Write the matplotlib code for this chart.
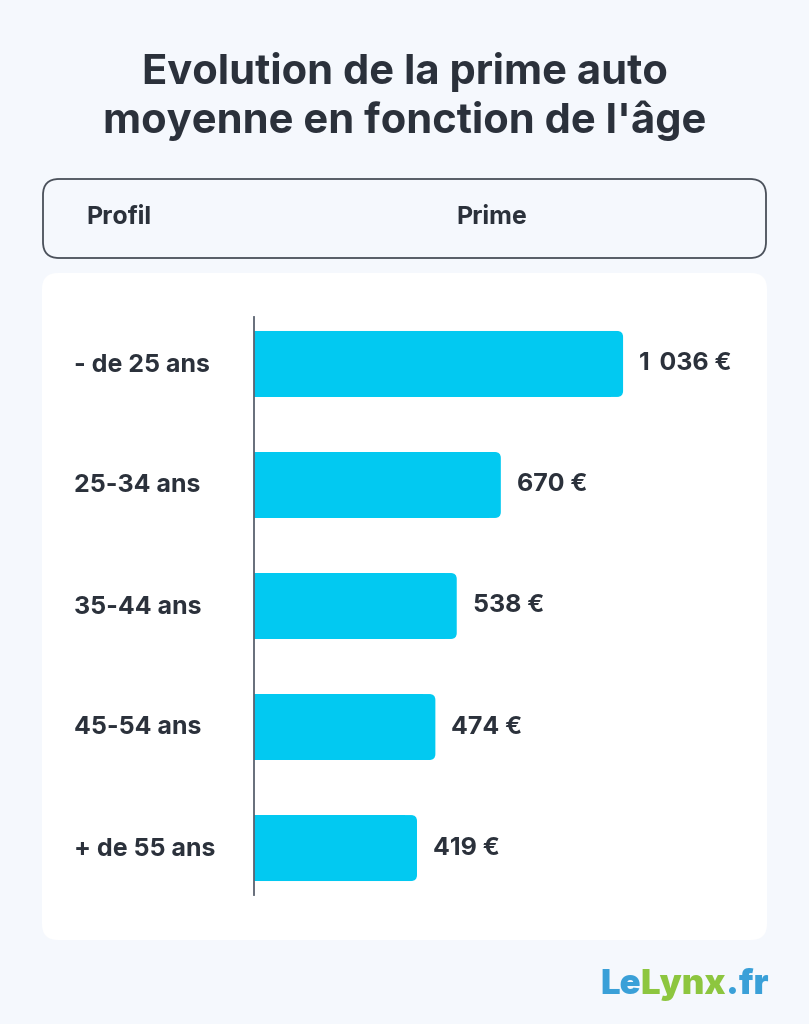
import matplotlib.pyplot as plt
from matplotlib.patches import FancyBboxPatch

# data
profils = ['- de 25 ans', '25-34 ans', '35-44 ans', '45-54 ans', '+ de 55 ans']
primes = [1036, 670, 538, 474, 419]
base = -69  # bars start below zero on the source chart

W, H = 809, 1024
bg = '#F5F8FD'
dark = '#2B313B'
bar_color = '#02C9F1'

plt.rcParams['font.family'] = ['Inter', 'DejaVu Sans']

fig = plt.figure(figsize=(W / 100, H / 100), dpi=100, facecolor=bg)


def fx(x):
    return x / W


def fy(y):
    return 1 - y / H


def box(x0, y0, x1, y1, r, **kw):
    # rounded box in pixel coords (y from top)
    p = FancyBboxPatch((fx(x0), fy(y1)), fx(x1 - x0), (y1 - y0) / H,
                       boxstyle='round,pad=0,rounding_size=%f' % (r / W),
                       mutation_aspect=W / H, transform=fig.transFigure, **kw)
    fig.patches.append(p)


# title
fig.text(0.5, fy(72), 'Evolution de la prime auto', ha='center', va='center',
         fontsize=30, fontweight='bold', color=dark)
fig.text(0.5, fy(121), "moyenne en fonction de l'âge", ha='center', va='center',
         fontsize=30, fontweight='bold', color=dark)

# header box
box(43, 179, 766, 258, 16, facecolor=bg, edgecolor='#4A505A', linewidth=1.3)
fig.text(fx(86), fy(218), 'Profil', ha='left', va='center', fontsize=18,
         fontweight='bold', color=dark)
fig.text(fx(456), fy(218), 'Prime', ha='left', va='center', fontsize=18,
         fontweight='bold', color=dark)

# white card
box(42, 273, 767, 940, 16, facecolor='white', edgecolor='none')

# bar axes
ax_l, ax_r, ax_t, ax_b = 254, 767, 317, 895
ax = fig.add_axes([fx(ax_l), fy(ax_b), fx(ax_r - ax_l), (ax_b - ax_t) / H])
ax.set_zorder(2)
ax.set_facecolor('none')
px_per_unit = 0.334
ax.set_xlim(base, base + (ax_r - ax_l) / px_per_unit)
ax.set_ylim(4.388, -0.388)

bar_h = 0.545
r_x = 6 / px_per_unit
aspect = px_per_unit / 121.0
for i, v in enumerate(primes):
    ax.barh(i, v - base - r_x * 2, left=base, height=bar_h, color=bar_color, linewidth=0)
    ax.add_patch(FancyBboxPatch((base, i - bar_h / 2), v - base, bar_h,
                                boxstyle='round,pad=0,rounding_size=%f' % r_x,
                                mutation_aspect=aspect, facecolor=bar_color,
                                edgecolor='none'))
    ax.text(v + 16 / px_per_unit, i, '{:,}'.format(v).replace(',', '\u2009 ') + ' €',
            ha='left', va='center', fontsize=18, fontweight='bold', color=dark)
    fig.text(fx(74), fy(365 + 121 * i), profils[i], ha='left', va='center',
             fontsize=18, fontweight='bold', color=dark)

for s in ['top', 'right', 'bottom']:
    ax.spines[s].set_visible(False)
ax.spines['left'].set_color('#5A6270')
ax.spines['left'].set_linewidth(1.3)
ax.set_xticks([])
ax.set_yticks([])

# logo
parts = [('Le', '#3AA0D8'), ('Lynx', '#8DC63F'), ('.fr', '#3AA0D8')]
fig.canvas.draw()
r = fig.canvas.get_renderer()
x = 600
for txt, col in parts:
    t = fig.text(fx(x), fy(985), txt, ha='left', va='center', fontsize=25,
                 fontweight='black', color=col)
    x += t.get_window_extent(r).width

fig.savefig('out.png', dpi=100, facecolor=bg)
